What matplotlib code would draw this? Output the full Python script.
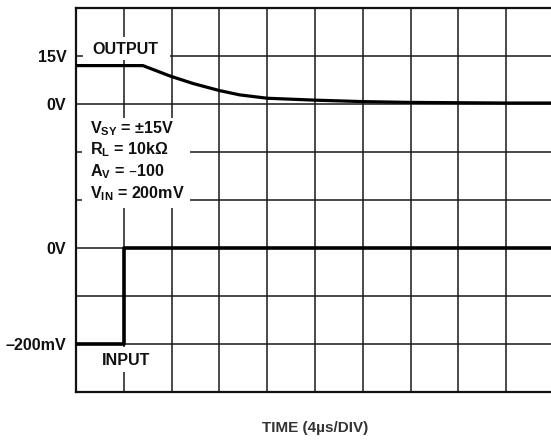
import numpy as np
import matplotlib
matplotlib.use("Agg")
import matplotlib.pyplot as plt
from matplotlib.patches import Rectangle

plt.rcParams['font.family'] = ['Liberation Sans', 'DejaVu Sans']
plt.rcParams['font.weight'] = 'bold'

# output trace (time in us, volts)
out_t = [0, 5.6, 7.9, 9.8, 12.0, 13.7, 16.0, 20, 24, 28, 32, 36, 40]
out_v = [12.0, 12.0, 8.7, 6.4, 4.2, 2.85, 1.8, 1.2, 0.75, 0.5, 0.4, 0.3, 0.3]

# input trace (time in us, millivolts)
in_t = [0, 4, 4, 40]
in_mv = [-200, -200, 0, 0]

ytick_labels = ['', '–200mV', '', '0V', '', '', '0V', '15V', '']
notes = ['V$_\\mathregular{SY}$ = ±15V', 'R$_\\mathregular{L}$ = 10kΩ',
         'A$_\\mathregular{V}$ = –100', 'V$_\\mathregular{IN}$ = 200mV']

us_per_div = 4
out_v_per_div = 15
in_mv_per_div = 100

fs = 11.6
fig = plt.figure(figsize=(5.51, 4.40), dpi=100)
W, H = 551, 440
ax = fig.add_axes([76 / W, (H - 392) / H, 478 / W, 384 / H])

ax.set_xlim(0, 10)
ax.set_ylim(0, 8)
ax.set_xticks(range(11))
ax.set_yticks(range(9))
ax.set_xticklabels([])
ax.set_yticklabels(ytick_labels, fontsize=fs, fontweight='bold', color='#111111')
ax.tick_params(length=0, pad=7)
ax.grid(True, color='#1a1a1a', linewidth=1.1, zorder=1)
ax.set_axisbelow(True)
for s in ax.spines.values():
    s.set_linewidth(1.6)
    s.set_color('#111111')

# traces
x_out = np.array(out_t) / us_per_div
y_out = 6 + np.array(out_v) / out_v_per_div
ax.plot(x_out, y_out, color='black', linewidth=2.3, zorder=3, solid_capstyle='butt')

x_in = np.array(in_t) / us_per_div
y_in = 3 + np.array(in_mv) / in_mv_per_div
ax.plot(x_in, y_in, color='black', linewidth=2.6, zorder=3, solid_capstyle='butt')

# white boxes behind labels
ax.add_patch(Rectangle((0.15, 6.92), 1.82, 0.48, facecolor='white', edgecolor='none', zorder=2))
ax.add_patch(Rectangle((0.13, 3.83), 2.25, 1.88, facecolor='white', edgecolor='none', zorder=2))
ax.add_patch(Rectangle((0.5, 0.42), 1.1, 0.52, facecolor='white', edgecolor='none', zorder=2))

ax.text(1.04, 7.14, 'OUTPUT', ha='center', va='center', fontsize=fs,
        fontweight='bold', color='#111111', zorder=4)
ax.text(1.04, 0.66, 'INPUT', ha='center', va='center', fontsize=fs,
        fontweight='bold', color='#111111', zorder=4)

for i, s in enumerate(notes):
    ax.text(0.29, 5.4 - i * 0.455, s, ha='left', va='baseline', fontsize=fs,
            fontweight='bold', color='#111111', zorder=4)

fig.text(315 / W, 1 - 428 / H, 'TIME (4µs/DIV)', ha='center', va='center',
         fontsize=11, fontweight='bold', color='#333333')

fig.savefig('out.png', dpi=100)
